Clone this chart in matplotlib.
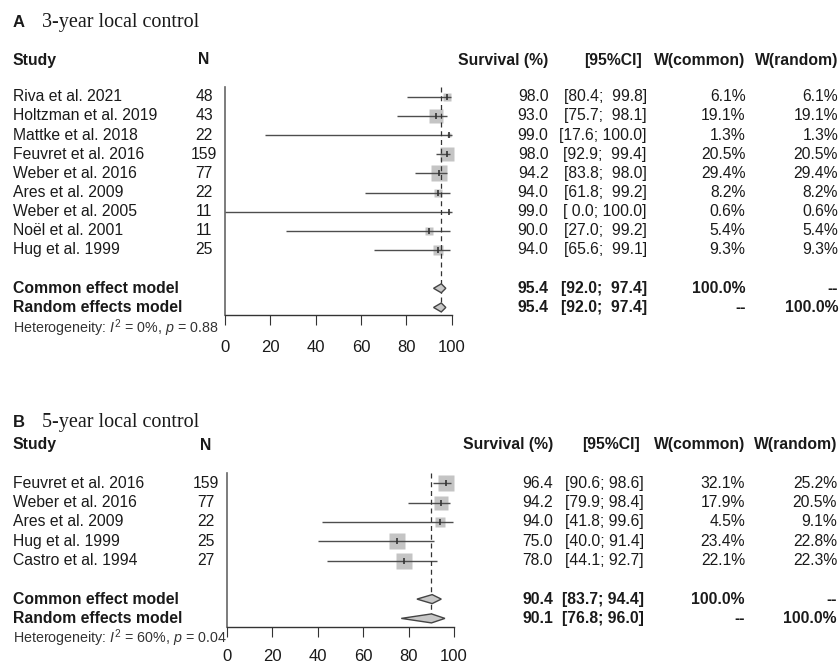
import numpy as np
import matplotlib
matplotlib.use("Agg")
import matplotlib.pyplot as plt

plt.rcParams['font.family'] = ['Liberation Sans', 'DejaVu Sans']
plt.rcParams['mathtext.fontset'] = 'custom'
plt.rcParams['mathtext.rm'] = 'Liberation Sans'
plt.rcParams['mathtext.it'] = 'Liberation Sans:italic'

# %% Data - panel A, 3-year local control
studies_a = ["Riva et al. 2021", "Holtzman et al. 2019", "Mattke et al. 2018", "Feuvret et al. 2016",
             "Weber et al. 2016", "Ares et al. 2009", "Weber et al. 2005", "No\u00ebl et al. 2001", "Hug et al. 1999"]
n_a = [48, 43, 22, 159, 77, 22, 11, 11, 25]
est_a = [98.0, 93.0, 99.0, 98.0, 94.2, 94.0, 99.0, 90.0, 94.0]
lo_a = [80.4, 75.7, 17.6, 92.9, 83.8, 61.8, 0.0, 27.0, 65.6]
hi_a = [99.8, 98.1, 100.0, 99.4, 98.0, 99.2, 100.0, 99.2, 99.1]
wc_a = [6.1, 19.1, 1.3, 20.5, 29.4, 8.2, 0.6, 5.4, 9.3]
wr_a = [6.1, 19.1, 1.3, 20.5, 29.4, 8.2, 0.6, 5.4, 9.3]
common_a = [95.4, 92.0, 97.4]
random_a = [95.4, 92.0, 97.4]
i2_a, p_a = "0%", "0.88"

# %% Data - panel B, 5-year local control
studies_b = ["Feuvret et al. 2016", "Weber et al. 2016", "Ares et al. 2009", "Hug et al. 1999", "Castro et al. 1994"]
n_b = [159, 77, 22, 25, 27]
est_b = [96.4, 94.2, 94.0, 75.0, 78.0]
lo_b = [90.6, 79.9, 41.8, 40.0, 44.1]
hi_b = [98.6, 98.4, 99.6, 91.4, 92.7]
wc_b = [32.1, 17.9, 4.5, 23.4, 22.1]
wr_b = [25.2, 20.5, 9.1, 22.8, 22.3]
common_b = [90.4, 83.7, 94.4]
random_b = [90.1, 76.8, 96.0]
i2_b, p_b = "60%", "0.04"

W, H = 839, 663
fig = plt.figure(figsize=(W / 100, H / 100), dpi=100)
tx = fig.add_axes([0, 0, 1, 1])
tx.set_xlim(0, W)
tx.set_ylim(H, 0)
tx.axis('off')

TXT = '#1a1a1a'
FS = 11.3


def fmt_ci(lo, hi):
    wl = max(len(f"{v:.1f}") for v in lo)
    wh = max(len(f"{v:.1f}") for v in hi)
    return [f"[{l:{wl}.1f}; {h:{wh}.1f}]" for l, h in zip(lo, hi)]


def panel(label, title, studies, n, est, lo, hi, wc, wr, common, random, i2, pval, lay):
    row0, step = lay['row0'], lay['step']
    k = len(studies)
    ys = [row0 + step * i for i in range(k)]
    y_com = row0 + step * (k + 1)
    y_ran = row0 + step * (k + 2)

    # title + headers
    tx.text(12.7, lay['title_y'], label, fontsize=12, fontweight='bold', color=TXT, va='baseline')
    tx.text(42.5, lay['title_y'], title, fontsize=14.5, family='Liberation Serif', color=TXT, va='baseline')
    hy = lay['head_y']
    tx.text(12.7, hy, "Study", fontsize=FS, fontweight='bold', color=TXT, va='center')
    tx.text(lay['n_x'], hy, "N", fontsize=FS, fontweight='bold', color=TXT, va='center', ha='center')
    tx.text(lay['surv_x'], hy, "Survival (%)", fontsize=FS, fontweight='bold', color=TXT, va='center', ha='right')
    tx.text(lay['ci_head_x'], hy, "[95%CI]", fontsize=FS, fontweight='bold', color=TXT, va='center', ha='right')
    tx.text(lay['wc_x'], hy, "W(common)", fontsize=FS, fontweight='bold', color=TXT, va='center', ha='right')
    tx.text(lay['wr_x'], hy, "W(random)", fontsize=FS, fontweight='bold', color=TXT, va='center', ha='right')

    cis = fmt_ci(lo + [common[1], random[1]], hi + [common[2], random[2]])
    for i, y in enumerate(ys):
        tx.text(12.7, y, studies[i], fontsize=FS, color=TXT, va='center')
        tx.text(lay['n_x'], y, str(n[i]), fontsize=FS, color=TXT, va='center', ha='center')
        tx.text(lay['surv_x'], y, f"{est[i]:.1f}", fontsize=FS, color=TXT, va='center', ha='right')
        tx.text(lay['ci_x'], y, cis[i], fontsize=FS, color=TXT, va='center', ha='right')
        tx.text(lay['wc_x'], y, f"{wc[i]:.1f}%", fontsize=FS, color=TXT, va='center', ha='right')
        tx.text(lay['wr_x'], y, f"{wr[i]:.1f}%", fontsize=FS, color=TXT, va='center', ha='right')

    for y, name, vals, ci, w1, w2 in [(y_com, "Common effect model", common, cis[k], "100.0%", "--"),
                                      (y_ran, "Random effects model", random, cis[k + 1], "--", "100.0%")]:
        tx.text(12.7, y, name, fontsize=FS, fontweight='bold', color=TXT, va='center')
        tx.text(lay['surv_x'], y, f"{vals[0]:.1f}", fontsize=FS, fontweight='bold', color=TXT, va='center', ha='right')
        tx.text(lay['ci_x'], y, ci, fontsize=FS, fontweight='bold', color=TXT, va='center', ha='right')
        tx.text(lay['wc_x'], y, w1, fontsize=FS, fontweight='bold', color=TXT, va='center', ha='right')
        tx.text(lay['wr_x'], y, w2, fontsize=FS, fontweight='bold', color=TXT, va='center', ha='right')

    tx.text(12.7, lay['het_y'], f"Heterogeneity: $I^2$ = {i2}, $p$ = {pval}", fontsize=10.3,
            color='#333333', va='center')

    # forest
    x0, x100, top, axis = lay['x0'], lay['x100'], lay['top'], lay['axis']
    ax = fig.add_axes([x0 / W, 1 - axis / H, (x100 - x0) / W, (axis - top) / H])
    ax.patch.set_alpha(0)
    ax.set_xlim(0, 100)
    ax.set_ylim(axis, top)
    for s in ['top', 'right']:
        ax.spines[s].set_visible(False)
    ax.spines['left'].set_color('#666666')
    ax.spines['left'].set_linewidth(1.2)
    ax.spines['bottom'].set_color('#333333')
    ax.spines['bottom'].set_linewidth(1.0)
    ax.set_yticks([])
    ax.set_xticks([0, 20, 40, 60, 80, 100])
    ax.tick_params(axis='x', direction='out', length=7.5, width=0.8, color='#333333',
                   labelsize=12, labelcolor=TXT, pad=lay['pad'])

    wmax = max(wr)
    for e, l, h, w, y in zip(est, lo, hi, wr, ys):
        side = 16.5 * np.sqrt(w / wmax)
        ax.plot([e], [y], marker='s', ms=side * 0.72, color='#c4c4c4', mec='none', clip_on=False, zorder=2)
        ax.plot([l, h], [y, y], color='#4d4d4d', lw=1.0, clip_on=False, zorder=3, solid_capstyle='butt')
        ax.plot([e], [y], marker='|', ms=4, mew=1.2, color='#333333', clip_on=False, zorder=4)

    ax.plot([random[0]] * 2, [top, y_ran], color='#333333', lw=0.9, ls=(0, (4, 3)), zorder=5, clip_on=False)
    for y, vals in [(y_com, common), (y_ran, random)]:
        e, l, h = vals
        ax.fill([l, e, h, e], [y, y - 4.5, y, y + 4.5], facecolor='#c8c8c8', edgecolor='#444444',
                lw=1.0, zorder=6, clip_on=False)


lay_a = dict(row0=96.7, step=19.16, title_y=26.7, head_y=60, het_y=328, n_x=204, surv_x=548.5,
             ci_x=646.7, ci_head_x=642, wc_x=745.5, wr_x=838, x0=225, x100=451.7, top=87, axis=315,
             pad=10.5)
lay_b = dict(row0=483.3, step=19.3, title_y=426.7, head_y=445, het_y=638, n_x=205.5, surv_x=553,
             ci_x=644, ci_head_x=640, wc_x=745, wr_x=837, x0=226.7, x100=454, top=473, axis=626.7,
             pad=8.5)

panel("A", "3-year local control", studies_a, n_a, est_a, lo_a, hi_a, wc_a, wr_a, common_a, random_a,
      i2_a, p_a, lay_a)
panel("B", "5-year local control", studies_b, n_b, est_b, lo_b, hi_b, wc_b, wr_b, common_b, random_b,
      i2_b, p_b, lay_b)

fig.savefig("out.png", dpi=100)
